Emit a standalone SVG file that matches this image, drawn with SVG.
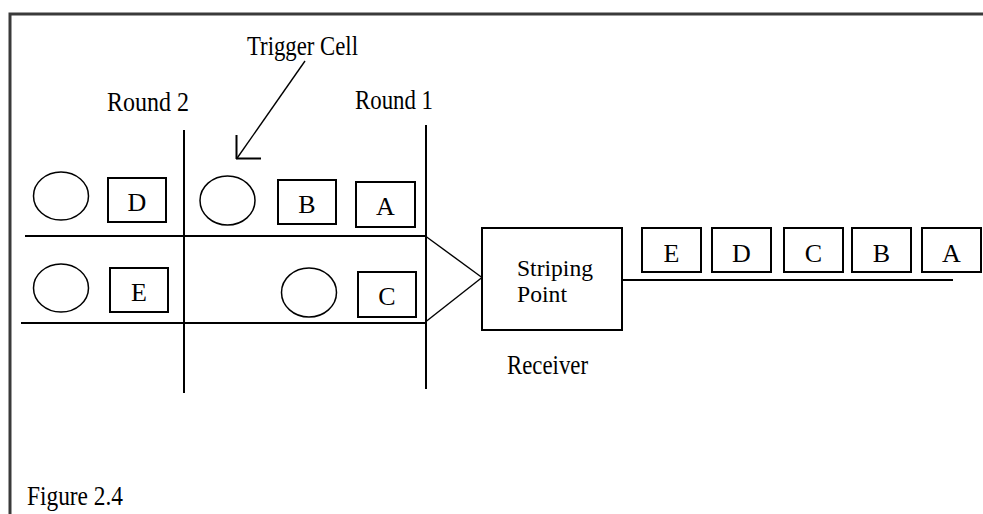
<svg xmlns="http://www.w3.org/2000/svg" width="983" height="514" viewBox="0 0 983 514">
<style>
.bg{fill:#ffffff}
.frame{fill:none;stroke:#3a3a3a;stroke-width:3}
.box{fill:#ffffff;stroke:#000000;stroke-width:2}
.cell{fill:none;stroke:#000000;stroke-width:1.5}
.ln{fill:none;stroke:#000000;stroke-width:2}
.thin{fill:none;stroke:#000000;stroke-width:1.4}
.t{font-family:"Liberation Serif","Times New Roman",serif;font-size:27px;fill:#000000}
.st{font-family:"Liberation Serif","Times New Roman",serif;font-size:23.4px;fill:#000000}
.lt{font-family:"Liberation Serif","Times New Roman",serif;font-size:26px;fill:#000000;text-anchor:middle}
</style>
<rect class="bg" x="0" y="0" width="983" height="514"/>
<path class="frame" d="M10,520 V14 H990"/>

<g id="connectors">
  <line class="ln" x1="184" y1="130" x2="184" y2="393"/>
  <line class="ln" x1="426" y1="125" x2="426" y2="389"/>
  <line class="ln" x1="25" y1="236" x2="426" y2="236"/>
  <line class="ln" x1="21" y1="323" x2="426" y2="323"/>
  <line class="thin" x1="426" y1="236.5" x2="482" y2="277.5"/>
  <line class="thin" x1="482" y1="277.5" x2="426" y2="321.5"/>
  <line class="ln" x1="622" y1="280" x2="953" y2="280"/>
  <line class="thin" x1="305" y1="61" x2="236.5" y2="159"/>
  <path class="ln" d="M236.5,135 V159 M236,158.5 H261"/>
</g>

<g id="labels">
  <text class="t" x="247" y="55" textLength="111" lengthAdjust="spacingAndGlyphs">Trigger Cell</text>
  <text class="t" x="107" y="111" textLength="82" lengthAdjust="spacingAndGlyphs">Round 2</text>
  <text class="t" x="355" y="109" textLength="78" lengthAdjust="spacingAndGlyphs">Round 1</text>
  <text class="t" x="507" y="374" textLength="81" lengthAdjust="spacingAndGlyphs">Receiver</text>
  <text class="t" x="27" y="505" textLength="96" lengthAdjust="spacingAndGlyphs">Figure 2.4</text>
</g>

<g id="cell-r2-top"><ellipse class="cell" cx="61" cy="196" rx="27.5" ry="24"/></g>
<g id="box-D-left"><rect class="box" x="108" y="178" width="58" height="44"/><text class="lt" x="137" y="211">D</text></g>
<g id="cell-trigger"><ellipse class="cell" cx="227.5" cy="200.5" rx="27.5" ry="24.5"/></g>
<g id="box-B-left"><rect class="box" x="278" y="180" width="58" height="44"/><text class="lt" x="307" y="213">B</text></g>
<g id="box-A-left"><rect class="box" x="356" y="182" width="59" height="45"/><text class="lt" x="385.5" y="215">A</text></g>

<g id="cell-r2-bottom"><ellipse class="cell" cx="61" cy="288" rx="27.5" ry="24"/></g>
<g id="box-E-left"><rect class="box" x="110" y="268" width="58" height="44"/><text class="lt" x="139" y="301">E</text></g>
<g id="cell-r1-bottom"><ellipse class="cell" cx="309" cy="292.5" rx="27.5" ry="24.5"/></g>
<g id="box-C-left"><rect class="box" x="358" y="272" width="58" height="45"/><text class="lt" x="387" y="305">C</text></g>

<g id="striping-point">
  <rect class="box" x="482" y="228" width="140" height="102"/>
  <text class="st" x="517" y="276" textLength="76" lengthAdjust="spacingAndGlyphs">Striping</text>
  <text class="st" x="517" y="302" textLength="50" lengthAdjust="spacingAndGlyphs">Point</text>
</g>

<g id="out-E"><rect class="box" x="642" y="228" width="59" height="44"/><text class="lt" x="671.5" y="262">E</text></g>
<g id="out-D"><rect class="box" x="712" y="228" width="59" height="44"/><text class="lt" x="741.5" y="262">D</text></g>
<g id="out-C"><rect class="box" x="784" y="228" width="59" height="44"/><text class="lt" x="813.5" y="262">C</text></g>
<g id="out-B"><rect class="box" x="852" y="228" width="59" height="44"/><text class="lt" x="881.5" y="262">B</text></g>
<g id="out-A"><rect class="box" x="922" y="228" width="59" height="44"/><text class="lt" x="951.5" y="262">A</text></g>
</svg>
